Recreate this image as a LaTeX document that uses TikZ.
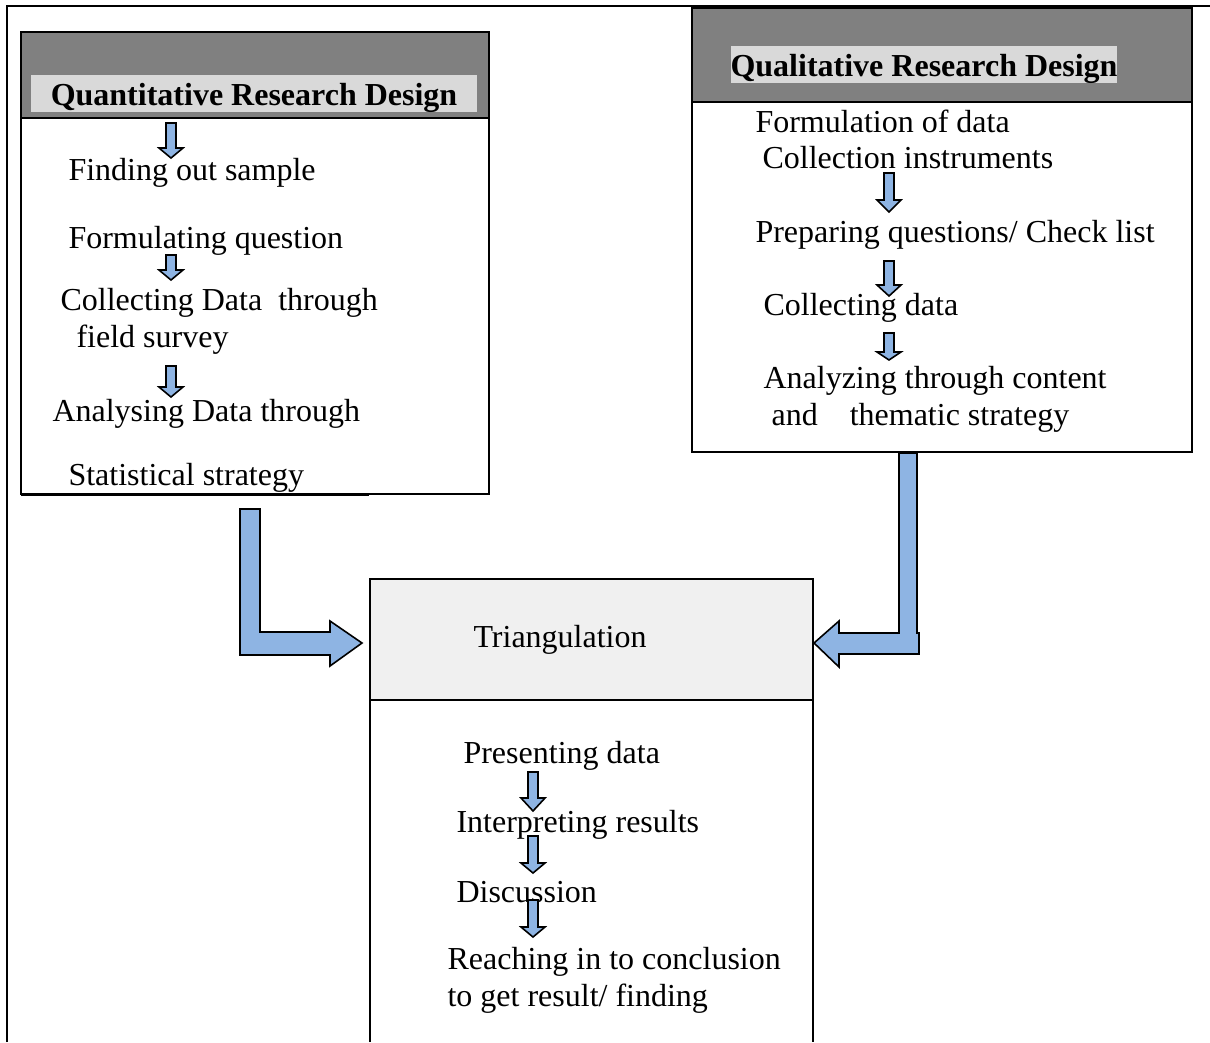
\documentclass[tikz,border=0pt]{standalone}
\usepackage{fontspec}
\setmainfont{Liberation Serif}
\definecolor{hdrgray}{HTML}{808080}
\definecolor{bandgray}{HTML}{D9D9D9}
\definecolor{trigray}{HTML}{F0F0F0}
\definecolor{arrowblue}{HTML}{8EB4E3}
\tikzset{
  boxline/.style={line width=0.8pt},
  blockarrow/.style={fill=arrowblue, draw=black, line width=0.6pt, line join=miter},
  lbl/.style={anchor=base west, inner sep=0pt, font=\fontsize{12}{14}\selectfont},
  hdr/.style={anchor=base, inner sep=0pt, font=\fontsize{12}{14}\selectfont\bfseries},
}
% small down arrow: x, top, start of head, tip
\newcommand{\stepdown}[4]{%
  \draw[blockarrow] (#1-5,#2) -- (#1+5,#2) -- (#1+5,#3) -- (#1+12,#3) -- (#1,#4)
    -- (#1-12,#3) -- (#1-5,#3) -- cycle;}
\begin{document}
\begin{tikzpicture}[x=0.375pt, y=-0.375pt]
    \useasboundingbox (0,0) rectangle (1210,1042);

    % Marco exterior
    \draw[line width=1.1pt] (7,1042) -- (7,6) -- (1210,6);

    % Caja cuantitativa
    \fill[hdrgray] (21,32) rectangle (489,118);
    \fill[bandgray] (31,75) rectangle (477,112);
    \draw[boxline] (21,32) rectangle (489,494);
    \draw[boxline] (21,118) -- (489,118);
    \draw[line width=0.6pt] (21,495.5) -- (369,495.5);
    \node[hdr] (quant) at (254,105) {Quantitative Research Design};

    \node[lbl] (sample) at (68,180) {Finding out sample};
    \node[lbl] (question) at (68,248) {Formulating question};
    \node[lbl] (collect) at (60,310) {Collecting Data~ through};
    \node[lbl] (collectb) at (76,347) {field survey};
    \node[lbl] (analyse) at (52,421) {Analysing Data through};
    \node[lbl] (analyseb) at (68,485) {Statistical strategy};

    \stepdown{171}{123}{148}{158}
    \stepdown{171}{255}{270}{280}
    \stepdown{171}{366}{387}{397}

    % Caja cualitativa
    \fill[hdrgray] (692,8) rectangle (1192,102);
    \fill[bandgray] (731,46) rectangle (1117,83);
    \draw[boxline] (692,8) rectangle (1192,452);
    \draw[boxline] (692,102) -- (1192,102);
    \node[hdr] (qual) at (924,76) {Qualitative Research Design};

    \node[lbl] (formul) at (755,132) {Formulation of data};
    \node[lbl] (instr) at (762,168) {Collection instruments};
    \node[lbl] (prepare) at (755,242) {Preparing questions/ Check list};
    \node[lbl] (gather) at (763,315) {Collecting data};
    \node[lbl] (content) at (763,388) {Analyzing through content};
    \node[lbl] (thematic) at (771,425) {and\hspace{12pt}thematic strategy};

    \stepdown{889}{173}{200}{212}
    \stepdown{889}{261}{285}{296}
    \stepdown{889}{333}{352}{360}

    % Triangulacion
    \fill[trigray] (370,579) rectangle (813,700);
    \draw[boxline] (370,1042) -- (370,579) -- (813,579) -- (813,1042);
    \draw[boxline] (370,700) -- (813,700);
    \node[lbl] (tri) at (473,647) {Triangulation};

    \node[lbl] (present) at (463,763) {Presenting data};
    \node[lbl] (interp) at (456,832) {Interpreting results};
    \node[lbl] (discuss) at (456,902) {Discussion};
    \node[lbl] (reach) at (447,969) {Reaching in to conclusion};
    \node[lbl] (reachb) at (447,1006) {to get result/ finding};

    \stepdown{533}{772}{798}{811}
    \stepdown{533}{836}{863}{873}
    \stepdown{533}{900}{927}{937}

    % Flechas hacia la triangulacion
    \draw[blockarrow] (240,509) -- (260,509) -- (260,632) -- (330,632) -- (330,621)
      -- (362,643) -- (330,666) -- (330,655) -- (240,655) -- cycle;
    \draw[blockarrow] (899,453) -- (917,453) -- (917,633) -- (919,633) -- (919,654)
      -- (839,654) -- (839,667) -- (814,643) -- (839,621) -- (839,633) -- (899,633) -- cycle;
\end{tikzpicture}
\end{document}
